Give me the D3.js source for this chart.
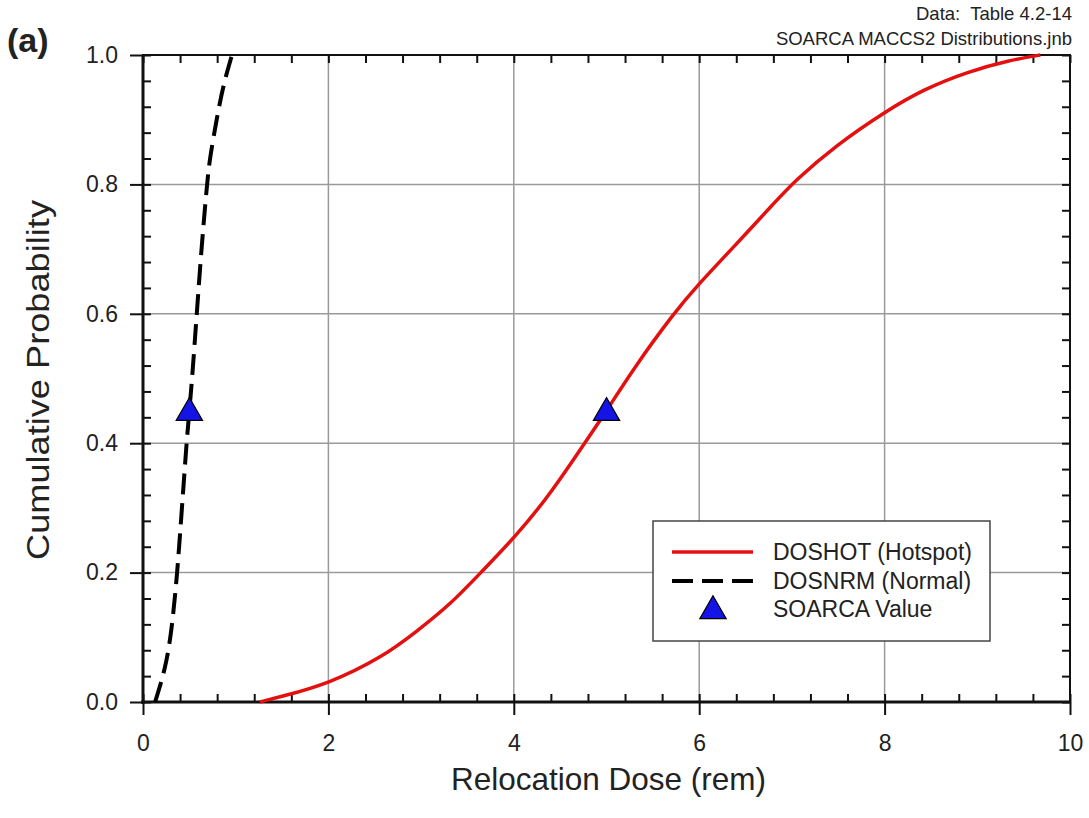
<!DOCTYPE html>
<html>
<head>
<meta charset="utf-8">
<script src="https://cdn.jsdelivr.net/npm/d3@7"></script>
<style>
  body { margin: 0; background: #fff; }
  text { font-family: "Liberation Sans", Arial, sans-serif; fill: #222; }
</style>
</head>
<body>
<div id="chart"></div>
<script>
// dose (rem) and cumulative probability
var doshotDose = [1.26, 1.48, 2.0, 2.59, 2.95, 3.31, 3.67, 4.0, 4.39, 4.82, 5.0, 5.29, 5.72, 6.0, 6.37, 6.84, 7.02, 7.48, 8.0, 8.42, 8.89, 9.35, 9.68];
var doshotProb = [0.0, 0.008, 0.028, 0.07, 0.109, 0.15, 0.204, 0.253, 0.32, 0.412, 0.45, 0.515, 0.60, 0.647, 0.703, 0.776, 0.804, 0.861, 0.912, 0.947, 0.974, 0.992, 1.0];

var dosnrmDose = [0.13, 0.24, 0.31, 0.37, 0.41, 0.45, 0.47, 0.50, 0.53, 0.58, 0.63, 0.69, 0.72, 0.80, 0.87, 0.96];
var dosnrmProb = [0.0, 0.05, 0.11, 0.2, 0.28, 0.36, 0.4, 0.45, 0.5, 0.6, 0.7, 0.8, 0.84, 0.905, 0.956, 1.0];

var soarcaDose = [0.5, 5.0];
var soarcaProb = [0.45, 0.45];

var xTicks = [0, 2, 4, 6, 8, 10];
var yTicks = [0, 0.2, 0.4, 0.6, 0.8, 1.0];

var legendLabels = ["DOSHOT (Hotspot)", "DOSNRM (Normal)", "SOARCA Value"];

var width = 1089,
    height = 818;
var margin = {top: 55, right: 19, bottom: 116, left: 143};

var svg = d3.select("#chart").append("svg")
    .attr("width", width)
    .attr("height", height);

var x = d3.scaleLinear().domain([0, 10]).range([margin.left, width - margin.right]);
var y = d3.scaleLinear().domain([0, 1]).range([height - margin.bottom, margin.top]);

var xMinor = d3.range(0, 10.001, 0.4);
var yMinor = d3.range(0, 1.0001, 0.04);

//////////////// grid
svg.append("g")
    .selectAll("line")
    .data(xTicks.slice(1, -1))
    .enter().append("line")
    .attr("x1", function (d) { return x(d); })
    .attr("x2", function (d) { return x(d); })
    .attr("y1", y(0))
    .attr("y2", y(1))
    .attr("stroke", "#9a9a9a")
    .attr("stroke-width", 1.5);
svg.append("g")
    .selectAll("line")
    .data(yTicks.slice(1, -1))
    .enter().append("line")
    .attr("x1", x(0))
    .attr("x2", x(10))
    .attr("y1", function (d) { return y(d); })
    .attr("y2", function (d) { return y(d); })
    .attr("stroke", "#9a9a9a")
    .attr("stroke-width", 1.5);

//////////////// axes (major ticks outside, minor ticks inside)
var bottomMinor = svg.append("g")
    .attr("transform", "translate(0," + y(0) + ")")
    .call(d3.axisTop(x).tickValues(xMinor).tickSize(8).tickFormat(""));
var topMinor = svg.append("g")
    .attr("transform", "translate(0," + y(1) + ")")
    .call(d3.axisBottom(x).tickValues(xMinor).tickSize(8).tickFormat(""));
var leftMinor = svg.append("g")
    .attr("transform", "translate(" + x(0) + ",0)")
    .call(d3.axisRight(y).tickValues(yMinor).tickSize(8).tickFormat(""));
var rightMinor = svg.append("g")
    .attr("transform", "translate(" + x(10) + ",0)")
    .call(d3.axisLeft(y).tickValues(yMinor).tickSize(8).tickFormat(""));

var xAxis = svg.append("g")
    .attr("transform", "translate(0," + y(0) + ")")
    .call(d3.axisBottom(x).tickValues(xTicks).tickSize(13).tickPadding(20).tickFormat(d3.format("d")));
var yAxis = svg.append("g")
    .attr("transform", "translate(" + x(0) + ",0)")
    .call(d3.axisLeft(y).tickValues(yTicks).tickSize(13).tickPadding(12).tickFormat(d3.format(".1f")));

[bottomMinor, topMinor, leftMinor, rightMinor, xAxis, yAxis].forEach(function (g) {
    g.select(".domain").remove();
    g.selectAll("line").attr("stroke", "#111").attr("stroke-width", 2);
});
[xAxis, yAxis].forEach(function (g) {
    g.selectAll("text")
        .attr("font-size", 23)
        .style("font-family", "'Liberation Sans', Arial, sans-serif")
        .attr("fill", "#222");
});

// frame
svg.append("rect")
    .attr("x", x(0))
    .attr("y", y(1))
    .attr("width", x(10) - x(0))
    .attr("height", y(0) - y(1))
    .attr("fill", "none")
    .attr("stroke", "#111")
    .attr("stroke-width", 2);
svg.append("line")
    .attr("x1", x(0) - 2).attr("x2", x(10))
    .attr("y1", y(0)).attr("y2", y(0))
    .attr("stroke", "#111").attr("stroke-width", 3);
svg.append("line")
    .attr("x1", x(0)).attr("x2", x(0))
    .attr("y1", y(1)).attr("y2", y(0) + 2)
    .attr("stroke", "#111").attr("stroke-width", 3);

//////////////// curves
var line = d3.line()
    .x(function (d) { return x(d[0]); })
    .y(function (d) { return y(d[1]); })
    .curve(d3.curveBasis);

svg.append("path")
    .datum(d3.zip(doshotDose, doshotProb))
    .attr("d", line)
    .attr("fill", "none")
    .attr("stroke", "#e41010")
    .attr("stroke-width", 3.5);

svg.append("path")
    .datum(d3.zip(dosnrmDose, dosnrmProb))
    .attr("d", line)
    .attr("fill", "none")
    .attr("stroke", "#000")
    .attr("stroke-width", 4)
    .attr("stroke-dasharray", "21,9");

var tri = d3.symbol().type(d3.symbolTriangle).size(300);
svg.selectAll(".soarca")
    .data(d3.zip(soarcaDose, soarcaProb))
    .enter().append("path")
    .attr("class", "soarca")
    .attr("d", tri)
    .attr("transform", function (d) { return "translate(" + x(d[0]) + "," + (y(d[1]) + 2) + ")"; })
    .attr("fill", "#1414e6")
    .attr("stroke", "#000")
    .attr("stroke-width", 1.2);

//////////////// legend
var legend = svg.append("g")
    .attr("transform", "translate(653,521)");
legend.append("rect")
    .attr("width", 337)
    .attr("height", 120)
    .attr("fill", "#fff")
    .attr("stroke", "#444")
    .attr("stroke-width", 1.5);
legend.append("line")
    .attr("x1", 19).attr("x2", 100)
    .attr("y1", 31).attr("y2", 31)
    .attr("stroke", "#e41010").attr("stroke-width", 3.5);
legend.append("line")
    .attr("x1", 19).attr("x2", 100)
    .attr("y1", 60).attr("y2", 60)
    .attr("stroke", "#000").attr("stroke-width", 4)
    .attr("stroke-dasharray", "21,9");
legend.append("path")
    .attr("d", tri)
    .attr("transform", "translate(60,90)")
    .attr("fill", "#1414e6")
    .attr("stroke", "#000")
    .attr("stroke-width", 1.2);
legend.selectAll("text")
    .data(legendLabels)
    .enter().append("text")
    .attr("x", 120)
    .attr("y", function (d, i) { return 39 + i * 28.5; })
    .attr("font-size", 23)
    .text(function (d) { return d; });

//////////////// titles
svg.append("text")
    .attr("x", (x(0) + x(10)) / 2 + 2)
    .attr("y", 790)
    .attr("font-size", 31.5)
    .style("text-anchor", "middle")
    .text("Relocation Dose (rem)");
svg.append("text")
    .attr("transform", "translate(49," + 380 + ") rotate(-90)")
    .attr("font-size", 31)
    .attr("textLength", 360)
    .attr("lengthAdjust", "spacingAndGlyphs")
    .style("text-anchor", "middle")
    .text("Cumulative Probability");
svg.append("text")
    .attr("x", 7)
    .attr("y", 52)
    .attr("font-size", 34)
    .attr("font-weight", "bold")
    .text("(a)");
svg.append("text")
    .attr("x", 1072)
    .attr("y", 20)
    .attr("font-size", 18.5)
    .style("text-anchor", "end")
    .style("white-space", "pre")
    .text("Data:  Table 4.2-14");
svg.append("text")
    .attr("x", 1072)
    .attr("y", 45)
    .attr("font-size", 18.5)
    .style("text-anchor", "end")
    .text("SOARCA MACCS2 Distributions.jnb");
</script>
</body>
</html>
